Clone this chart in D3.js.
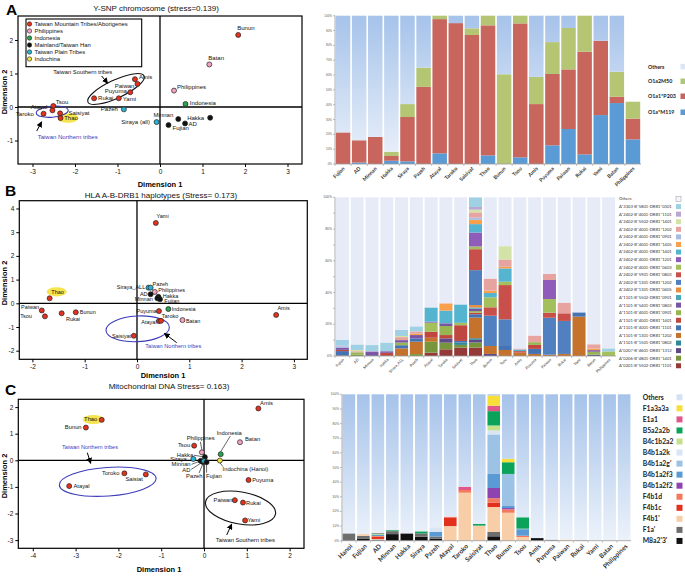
<!DOCTYPE html>
<html><head><meta charset="utf-8">
<script src="https://cdn.jsdelivr.net/npm/d3@7/dist/d3.min.js"></script>
<style>
html,body{margin:0;padding:0;background:#fff;}
svg{display:block;font-family:"Liberation Sans",Arial,Helvetica,sans-serif;}
</style></head><body>
<svg id="chart" width="685" height="576"></svg>
<script>
// ================= DATA =================
// ---- Panel A : Y-SNP MDS ----
const ysnpNames = ["Bunun","Batan","Amis","Paiwan","Puyuma","Yami","Rukai","Philippines","Indonesia","Pazeh","Siraya (all)","Minnan","Hakka","AD","Fujian","Tsou","Atayal","Saisiyat","Taroko","Thao"];
const ysnpDim1  = [1.84,1.16,-0.59,-0.53,-0.70,-0.97,-1.55,0.33,0.60,-0.85,-0.08,0.43,1.18,0.59,0.20,-2.51,-2.53,-2.35,-2.74,-2.34];
const ysnpDim2  = [2.15,1.27,0.83,0.69,0.44,0.26,0.26,0.49,0.09,-0.07,-0.45,-0.36,-0.32,-0.49,-0.54,0.03,-0.10,-0.19,-0.20,-0.33];
const ysnpGroup = ["M","P","M","M","M","M","M","P","I","T","T","H","H","H","H","M","M","M","M","M"];
const legendGroups = ["M","P","I","H","T","C"];
const legendLabels = ["Taiwan Mountain Tribes/Aborigenes","Philippines","Indonesia","Mainland/Taiwan Han","Taiwan Plain Tribes","Indochina"];

// ---- Panel A : Y-SNP haplogroup bars (%) ----
const ysnpCats   = ["Fujian","AD","Minnan","Hakka","Siraya","Pazeh","Atayal","Taroko","Saisiyat","Thao","Bunun","Tsou","Amis","Puyuma","Paiwan","Rukai","Yami","Batan","Philippines"];
const ysnpM119   = [0,1,0,2.2,1.8,0,7.2,0,0,5.8,0,4.5,0,12.6,23.6,6.5,33,41.1,16.6];
const ysnpP203   = [21.3,15,18.2,3.2,29.9,52,90.5,95,87,87.7,0,90.3,40.4,48.1,40.2,69.2,50.1,4.3,14];
const ysnpM50    = [0,0,0,2.9,8.7,13,2.3,0,4.5,6.5,60.5,5.2,18.3,21.5,27.9,24.3,0,16.8,11.4];
const ysnpOthers = [78.7,84,81.8,91.7,59.6,35,0,5,8.5,0,39.5,0,41.3,17.8,8.3,0,16.9,37.8,0];
const ysnpSeriesNames = ["O1a*M119","O1a1*P203","O1a2M50","Others"];

// ---- Panel B : HLA MDS ----
const hlaNames = ["Yami","Thao","Paiwan","Tsou","Rukai","Bunun","Saisiyat","Atayal","Taroko","Puyuma","Indonesia","Batan","Amis","Siraya_ALL","Pazeh","Philippines","AD","Hakka","Minnan","Fujian"];
const hlaDim1  = [0.36,-1.67,-1.82,-1.76,-1.44,-1.17,-0.06,0.42,0.46,0.42,0.60,0.87,2.66,0.22,0.26,0.34,0.26,0.41,0.39,0.44];
const hlaDim2  = [3.39,0.21,-0.30,-0.55,-0.42,-0.38,-1.37,-0.75,-0.74,-0.33,-0.24,-0.71,-0.49,0.66,0.66,0.48,0.38,0.28,0.21,0.17];
const hlaGroup = ["M","M","M","M","M","M","M","M","M","M","I","P","M","T","T","P","H","H","H","H"];

// ---- Panel B : HLA haplotype bars (%) ----
const hlaCats = ["Fujian","AD","Minnan","Hakka","Siraya_ALL","Pazeh","Atayal","Taroko","Saisiyat","Thao","Bunun","Tsou","Amis","Puyuma","Paiwan","Rukai","Yami","Batan","Philippines"];
const hlaLegend = ["Others","A*3303-B*5801-DRB1*0301","A*2402-B*4001-DRB1*1101","A*2402-B*5502-DRB1*1401","A*2402-B*4001-DRB1*1202","A*2402-B*4001-DRB1*0901","A*2402-B*4001-DRB1*1405","A*2402-B*4001-DRB1*1401","A*2402-B*4001-DRB1*1201","A*2402-B*4001-DRB1*0403","A*2402-B*5901-DRB1*0803","A*2402-B*1301-DRB1*1202","A*2402-B*1301-DRB1*0405","A*1101-B*5502-DRB1*0901","A*1101-B*5401-DRB1*0803","A*1101-B*4001-DRB1*0901","A*1101-B*4001-DRB1*1401","A*1101-B*4001-DRB1*1101","A*1101-B*1301-DRB1*1202","A*1101-B*1501-DRB1*0802","A*0207-B*4601-DRB1*1312","A*0206-B*4801-DRB1*1401","A*0201-B*5502-DRB1*1101"];
const hlaOthers = [89.8,92.7,93.1,91.5,83.6,81.3,69.4,66.8,67.5,0,51.2,30.8,95.3,87.1,48.3,66.4,72.5,92.6,95.2];
const hla01 = [3.6,3.5,3.8,5.5,3.8,3.2,0,0,0,6,0,0,0,0,0,0,0,0,1.9];
const hla02 = [0.5,0,0.6,0,0,0,0,0,0,1.7,0,0,0,0,0,0,0,0,0];
const hla03 = [0,0.8,0,0,0.7,0,0,0,0,1.7,0,8.4,0,0,0,0,0,0,0];
const hla04 = [0,0.7,0,0,1.9,1.5,0,0,0,3.2,7.6,4.6,0.6,4.2,3.8,6.7,0,2.7,0];
const hla05 = [1.0,0,0,0,0,0,0,0,0,1.5,0,0,0,0,0,0,0,0,0];
const hla06 = [0,0,0,0,0,0.8,0,4.6,0,2.7,1.5,1.0,0,0,0,0,0,1.0,0];
const hla07 = [0,0,0,0,0,0,9.0,8.0,11.6,5.3,2.7,8.4,1.0,0,0,0,0,0,0];
const hla08 = [0,0,0,0,0,0,0.6,0,0,8.8,0,0,0,0,12,0,0,0,0];
const hla09 = [0,0,0,0,0,0,5.7,0,1.5,1.7,6.3,2.1,0,0,8.6,0,0,0,2.9];
const hla10 = [0,0,0,0,0,0,0,0,0,13.2,5.3,21.6,1.0,0,3.2,4.8,0,0,0];
const hla11 = [0,0,0,0,0,0,0,0,0,22,19.1,16.8,0,0,23.3,20.8,0,0,0];
const hla12 = [0,0,0,0,0,0,0,0,0,1.5,0,0,0,0,0,0,0,0,0];
const hla13 = [0,0,0,0,0,0,0,0,0,0.8,0,0,0,0,0,0,0,0,0];
const hla14 = [1.2,0,2.0,1.0,1.5,2.1,0,1.7,0,1.5,0,0,0,0,0,0,0,1.0,0];
const hla15 = [0,1.5,0,0,1.7,0,0,5.7,0,1.0,0,0,0,1.7,0,0,0,1.9,0];
const hla16 = [0.8,0,0,1.5,0,0,3.8,2.1,9.9,1.0,0,0,0,2.5,0,0,0,0,0];
const hla17 = [2.8,0,0,0,2.0,2.1,0,0,1.0,2.1,0,2.5,0,3.2,0,0,2.7,0,0];
const hla18 = [0,0,0,0,4.8,7.8,2.5,0,0,13,5,3.8,2.1,1.3,0.8,1.3,24.8,0,0];
const hla19 = [0,0,0,0,0,0,0,0,1.5,1.0,0,0,0,0,0,0,0,0,0];
const hla20 = [0,0,0.5,0,0,0,0,2.7,0,1.7,1.3,0,0,0,0,0,0,0.8,0];
const hla21 = [0,0.8,0,0,0,1.2,6.9,4.2,1.7,3.2,0,0,0,0,0,0,0,0,0];
const hla22 = [0.3,0,0,0.5,0,0,2.1,4.2,5.3,5.3,0,0,0,0,0,0,0,0,0];

// ---- Panel C : mtDNA MDS ----
const mtNames = ["Amis","Thao","Bunun","Batan","Tsou","Philippines","Indonesia","Hakka","Siraya","Minnan","AD","Pazeh","Fujian","Indochina (Hanoi)","Toroko","Saisiat","Atayal","Puyuma","Paiwan","Rukai","Yami"];
const mtDim1  = [1.27,-2.39,-2.76,0.84,-0.23,-0.05,0.39,0.02,-0.25,-0.08,-0.03,0.0,0.06,0.37,-1.86,-1.36,-3.15,1.04,0.72,0.91,0.96];
const mtDim2  = [1.95,1.52,1.23,0.68,0.55,0.30,0.23,0.12,0.05,-0.02,-0.06,-0.03,-0.07,-0.01,-0.49,-0.53,-0.97,-0.74,-1.50,-1.59,-2.26];
const mtGroup = ["M","M","M","P","M","P","I","H","T","H","H","T","H","C","M","M","M","M","M","M","M"];

// ---- Panel C : mtDNA haplogroup bars (%) ----
const mtCats = ["Hanoi","Fujian","AD","Minnan","Hakka","Siraya","Pazeh","Atayal","Taroko","Saisiyat","Thao","Bunun","Tsou","Amis","Puyuma","Paiwan","Rukai","Yami","Batan","Philippines"];
const mtLegend = ["Others","F1a3a3a","E1a1","B5a2a2b","B4c1b2a2","B4b1a2k","B4b1a2g'","B4b1a2f3","B4b1a2f2","F4b1d","F4b1c","F4b1'","F1a'","M8a2'3'"];
const mtM8a23   = [0,1.5,0.3,4.5,5.0,2.7,1.4,0,0,0,3.0,0,0,1.8,0,0,0,0,0,0];
const mtF1a     = [5.0,1.8,0.5,2.0,0,2.3,1.4,0,0,0,3.0,0,0,0,0.7,0,0.3,0,0,0];
const mtF4b1    = [0,1.2,0.4,0,0,0,0,10.0,32.8,10.3,17.0,19.1,2.5,0,0,0.8,0,0,0,0];
const mtF4b1c   = [0,0,1.5,0,0,0,0,5.9,0,0,3.0,0,0,0,0,0,0,0,0,0];
const mtF4b1d   = [0,0,0.5,0,0,0,0,0.5,1.8,0,3.0,2.3,0.9,0,0,0,0,0,0,0];
const mtB4b1a2f2 = [0,0,0,0,0,0,0,0,0,0,7.0,0.9,0,0,0,0,0,0,0,0];
const mtB4b1a2f3 = [0,0,0.8,0,0,0,3.2,0,0,0,9.6,1.4,4.5,0,0,0,0,0,0,0];
const mtB4b1a2g  = [0,0,0,0,0,0,0,0,0,0,27.0,21.9,0,0,0,0,0,0,0,0];
const mtB4b1a2k  = [0,0,0,0,0,0,3.2,0,0,0,2.7,0,0.3,0,0,0,0,0,0,0];
const mtB4c1b2a2 = [0,0,0.5,0,0,0,0,0,0,0,3.4,0,0,0,0,0,0,0,0,0];
const mtB5a2a2b  = [0,0,0.5,0.7,0,1.4,0,0,0,1.1,9.8,8.0,7.8,0,0,0,0,0,0,0];
const mtE1a1     = [0,0,0.3,0,0,0,0,0,2.3,0,3.7,0,0,0,0,0,0,0,0,0];
const mtF1a3a3a  = [0,0,0,0,0,0,0,0,0,0,7.0,2.3,0,0,0,0,0,0,0,0];
const mtOthers   = [95,95.5,94.7,92.8,95,93.6,90.8,83.6,63.1,88.6,0.8,44.1,84,98.2,99.3,99.2,99.7,100,100,100];

// ================= STYLE / LAYOUT =================
const GC = {M:"#e3321f",P:"#f2a2c2",I:"#2ca24f",H:"#111111",T:"#2bb3d3",C:"#efe046"};
const FONT = '"Liberation Sans",Arial,sans-serif';
const CAL = 'Lato,"Open Sans",sans-serif';
const svg = d3.select("#chart");
const defs = svg.append("defs");
defs.append("marker").attr("id","arr").attr("viewBox","0 0 10 10").attr("refX",9).attr("refY",5)
  .attr("markerWidth",6).attr("markerHeight",6).attr("orient","auto")
  .append("path").attr("d","M0,0L10,5L0,10z").attr("fill","#000");
function grad(id,y1,y2){
  const g=defs.append("linearGradient").attr("id",id).attr("gradientUnits","userSpaceOnUse")
    .attr("x1",0).attr("x2",0).attr("y1",y1).attr("y2",y2);
  g.append("stop").attr("offset",0).attr("stop-color","#a6c3ea");
  g.append("stop").attr("offset",1).attr("stop-color","#ecf2fa");
}
grad("gA",15.7,164); grad("gC",394.3,540.7);

function scatter(o){
  const g = svg.append("g");
  const x = d3.scaleLinear().domain(o.xd).range([o.L,o.R]);
  const y = d3.scaleLinear().domain(o.yd).range([o.B,o.T]);
  (o.highlights||[]).forEach(h=>{
    g.append("ellipse").attr("cx",x(h.x)).attr("cy",y(h.y)).attr("rx",h.rx).attr("ry",h.ry).attr("fill","#f5e44f");
  });
  g.append("line").attr("x1",o.L).attr("x2",o.R).attr("y1",y(0)).attr("y2",y(0)).attr("stroke","#000").attr("stroke-width",1.3);
  g.append("line").attr("x1",x(0)).attr("x2",x(0)).attr("y1",o.T).attr("y2",o.B).attr("stroke","#000").attr("stroke-width",1.3);
  g.append("rect").attr("x",o.L).attr("y",o.T).attr("width",o.R-o.L).attr("height",o.B-o.T)
    .attr("fill","none").attr("stroke","#000").attr("stroke-width",1.2);
  const ax = g.append("g").attr("transform",`translate(0,${o.B})`)
    .call(d3.axisBottom(x).tickValues(o.xt).tickSize(3).tickPadding(2).tickFormat(d=>String(d)));
  const ay = g.append("g").attr("transform",`translate(${o.L},0)`)
    .call(d3.axisLeft(y).tickValues(o.yt).tickSize(3).tickPadding(2).tickFormat(d=>String(d)));
  [ax,ay].forEach(a=>{a.select(".domain").remove();
    a.selectAll("text").attr("font-size",6.5).attr("font-family",FONT).attr("fill","#111");
    a.selectAll("line").attr("stroke","#000");});
  g.append("text").attr("x",o.xTitle[0]).attr("y",o.xTitle[1]).attr("text-anchor","middle")
    .attr("font-size",7.5).attr("font-weight","bold").text("Dimension 1");
  g.append("text").attr("transform",`translate(${o.yTitle[0]},${o.yTitle[1]}) rotate(-90)`).attr("text-anchor","middle")
    .attr("font-size",7.5).attr("font-weight","bold").text("Dimension 2");
  (o.ellipses||[]).forEach(e=>{
    g.append("ellipse").attr("transform",`translate(${x(e.x)},${y(e.y)}) rotate(${e.rot||0})`)
      .attr("rx",e.rx).attr("ry",e.ry).attr("fill","none").attr("stroke",e.color).attr("stroke-width",1.1);
  });
  (o.arrows||[]).forEach(a=>{
    g.append("line").attr("x1",x(a[0])).attr("y1",y(a[1])).attr("x2",x(a[2])).attr("y2",y(a[3]))
      .attr("stroke","#000").attr("stroke-width",1).attr("marker-end","url(#arr)");
  });
  (o.notes||[]).forEach(n=>{
    g.append("text").attr("x",x(n.x)).attr("y",y(n.y)).attr("text-anchor","middle")
      .attr("font-size",n.fs).attr("fill",n.color).text(n.text);
  });
  const pts = o.names.map((n,i)=>({n,x:x(o.d1[i]),y:y(o.d2[i]),g:o.grp[i]}));
  pts.forEach(p=>{
    const l = o.leaders && o.leaders[p.n];
    if(l) g.append("line").attr("x1",p.x+l[0]).attr("y1",p.y+l[1]).attr("x2",p.x+l[2]).attr("y2",p.y+l[3])
      .attr("stroke","#000").attr("stroke-width",0.6);
  });
  g.selectAll("circle.pt").data(pts).join("circle").attr("class","pt")
    .attr("cx",d=>d.x).attr("cy",d=>d.y).attr("r",2.5)
    .attr("fill",d=>GC[d.g]).attr("stroke","#222").attr("stroke-width",0.7);
  g.selectAll("text.pl").data(pts).join("text").attr("class","pl")
    .attr("x",d=>d.x+o.pos[d.n][0]).attr("y",d=>d.y+o.pos[d.n][1])
    .attr("text-anchor",d=>o.pos[d.n][2]).attr("font-size",o.fs).attr("fill","#111").text(d=>d.n);
  g.append("text").attr("x",o.title[0]).attr("y",o.title[1]).attr("text-anchor","middle")
    .attr("font-size",8).attr("fill","#111").text(o.title[2]);
  g.append("text").attr("x",o.letter[0]).attr("y",o.letter[1]).attr("font-size",15.5)
    .attr("font-weight","bold").text(o.letter[2]);
  return {x,y,g};
}

function bars(o){
  const g = svg.append("g");
  const x = d3.scaleBand().domain(o.cats).range([o.L,o.R]).paddingInner(o.pad).paddingOuter(o.padOut);
  const y = d3.scaleLinear().domain([0,100]).range([o.B,o.T]);
  const rows = o.cats.map((c,i)=>{const r={cat:c}; o.series.forEach(s=>r[s.name]=s.values[i]); return r;});
  const st = d3.stack().keys(o.series.map(s=>s.name))(rows);
  g.selectAll("g.s").data(st).join("g").attr("class","s").attr("fill",(d,i)=>o.series[i].color)
    .selectAll("rect").data(d=>d).join("rect")
    .attr("x",d=>x(d.data.cat)).attr("width",x.bandwidth())
    .attr("y",d=>y(d[1])).attr("height",d=>Math.max(0,y(d[0])-y(d[1])));
  g.append("line").attr("x1",o.L).attr("x2",o.L).attr("y1",o.T).attr("y2",o.B).attr("stroke","#999").attr("stroke-width",0.8);
  g.append("line").attr("x1",o.L).attr("x2",o.R).attr("y1",o.B).attr("y2",o.B).attr("stroke","#999").attr("stroke-width",0.8);
  o.yTicks.forEach(t=>{
    g.append("line").attr("x1",o.L-2).attr("x2",o.L).attr("y1",y(t)).attr("y2",y(t)).attr("stroke","#999").attr("stroke-width",0.6);
  });
  o.yLabels.forEach(t=>{
    g.append("text").attr("x",o.L-3).attr("y",y(t)+1).attr("text-anchor","end").attr("font-size",o.yfs)
      .attr("fill","#555").text(t+"%");
  });
  const step = x.step();
  o.cats.forEach((c,i)=>{
    const bx = x(c)-(step-x.bandwidth())/2;
    g.append("line").attr("x1",bx).attr("x2",bx).attr("y1",o.B).attr("y2",o.B+2).attr("stroke","#999").attr("stroke-width",0.6);
  });
  g.selectAll("text.cl").data(o.cats).join("text").attr("class","cl")
    .attr("transform",d=>`translate(${x(d)+x.bandwidth()/2+o.catOff[0]},${o.B+o.catOff[1]}) rotate(-45)`)
    .attr("text-anchor","end").attr("font-size",o.cfs).attr("font-weight",o.cbold?"bold":"normal")
    .attr("font-family",CAL).attr("fill","#333").text(d=>d);
  return {x,y,g};
}

// ================= PANEL A =================
scatter({
  L:18,R:302,T:16,B:164, xd:[-3.341,3.341], yd:[-1.701,2.716], xt:[-3,-2,-1,0,1,2,3], yt:[-1,0,1,2],
  names:ysnpNames,d1:ysnpDim1,d2:ysnpDim2,grp:ysnpGroup, fs:6,
  xTitle:[160,187], yTitle:[7,92], title:[156,11,"Y-SNP chromosome (stress=0.139)"], letter:[6,15,"A"],
  highlights:[{x:-2.165,y:-0.328,rx:10.5,ry:4.8}],
  ellipses:[{x:-1.035,y:0.537,rx:31,ry:9,rot:-25,color:"#111"},{x:-2.536,y:-0.14,rx:16,ry:5.5,rot:-5,color:"#3d3dbb"}],
  arrows:[[-1.372,0.925,-1.231,0.707],[-2.901,-0.716,-2.784,-0.439]],
  notes:[{x:-1.819,y:0.985,text:"Taiwan Southern tribes",fs:5.8,color:"#111"},{x:-2.172,y:-0.955,text:"Taiwan Northern tribes",fs:6,color:"#3d3dbb"}],
  pos:{"Bunun":[-1,-5,"start"],"Batan":[-1,-4.5,"start"],"Amis":[4,-0.5,"start"],"Paiwan":[-3,4,"end"],
    "Puyuma":[-3.5,0.5,"end"],"Yami":[4,2.4,"start"],"Rukai":[4,1.4,"start"],"Philippines":[3,-1.7,"start"],
    "Indonesia":[4.3,0.7,"start"],"Pazeh":[-6,2,"end"],"Siraya (all)":[-6.7,1.7,"end"],"Minnan":[-5,-2,"end"],
    "Hakka":[-6,2,"end"],"AD":[3.3,2.7,"start"],"Fujian":[4,4.7,"start"],"Tsou":[2.4,-1.7,"start"],
    "Atayal":[-5,-1.6,"end"],"Saisiyat":[8.3,1.4,"start"],"Taroko":[-9.7,2.3,"end"],"Thao":[3.6,2,"start"]}
});
(function(){
  const g=svg.append("g");
  g.append("rect").attr("x",26).attr("y",19).attr("width",115.7).attr("height",47.7).attr("fill","#fff").attr("stroke","#000").attr("stroke-width",1.1);
  legendGroups.forEach((k,i)=>{
    const yy=24+i*7;
    g.append("circle").attr("cx",29.5).attr("cy",yy).attr("r",2.2).attr("fill",GC[k]).attr("stroke","#222").attr("stroke-width",0.6);
    g.append("text").attr("x",34.5).attr("y",yy+2).attr("font-size",5.9).attr("fill","#111").text(legendLabels[i]);
  });
})();
const ysnpColors = ["#5b9bd5","#c8655d","#b4c673","url(#gA)"];
bars({cats:ysnpCats,L:335,R:641,T:15.7,B:164,pad:0.1,padOut:0.05,
  series:[ysnpM119,ysnpP203,ysnpM50,ysnpOthers].map((v,i)=>({name:ysnpSeriesNames[i],values:v,color:ysnpColors[i]})),
  yTicks:d3.range(0,101,10), yLabels:d3.range(0,101,10), yfs:3, catOff:[2,5], cfs:5.2, cbold:true});
(function(){
  const g=svg.append("g");
  const items=[["Others","#dce7f6"],["O1a2M50","#b4c673"],["O1a1*P203","#c8655d"],["O1a*M119","#5b9bd5"]];
  items.forEach((it,i)=>{
    const yy=[66.7,81.3,96.3,112.3][i];
    g.append("text").attr("x",648).attr("y",yy+2).attr("font-size",5.3).attr("font-weight","bold").attr("font-family",CAL).attr("fill","#222").text(it[0]);
    g.append("rect").attr("x",680.5).attr("y",yy-2.8).attr("width",5.5).attr("height",5.5).attr("fill",it[1]);
  });
})();

// ================= PANEL B =================
scatter({
  L:19.3,R:307.3,T:200.7,B:359.3, xd:[-2.25,3.256], yd:[-2.363,4.329], xt:[-2,-1,0,1,2,3], yt:[-2,-1,0,1,2,3,4],
  names:hlaNames,d1:hlaDim1,d2:hlaDim2,grp:hlaGroup, fs:5.5,
  xTitle:[163,378], yTitle:[7,283], title:[161,198,"HLA A-B-DRB1 haplotypes (Stress= 0.173)"], letter:[5,196,"B"],
  highlights:[{x:-1.535,y:0.485,rx:10,ry:4.6}],
  ellipses:[{x:0.013,y:-1.076,rx:31.7,ry:12.8,rot:-3,color:"#3d3dbb"}],
  arrows:[[0.759,-1.662,0.522,-1.266]],
  notes:[{x:0.694,y:-1.886,text:"Taiwan Northern tribes",fs:5.6,color:"#3d3dbb"}],
  pos:{"Yami":[0.7,-5,"start"],"Thao":[1.7,-4.6,"start"],"Paiwan":[-2.7,-1,"end"],"Tsou":[-13,1.7,"end"],
    "Rukai":[4.3,7.7,"start"],"Bunun":[4,1.4,"start"],"Saisiyat":[-2.7,2,"end"],"Atayal":[-2.3,2.7,"end"],
    "Taroko":[0.7,-3,"start"],"Puyuma":[-2.3,1.7,"end"],"Indonesia":[3.4,1.7,"start"],"Batan":[3.4,3,"start"],
    "Amis":[1.3,-4.7,"start"],"Siraya_ALL":[-3.3,1.6,"end"],"Pazeh":[2,-1.4,"start"],"Philippines":[3.6,0.3,"start"],
    "AD":[-3,2,"end"],"Hakka":[4.4,1.3,"start"],"Minnan":[-4.6,2.7,"end"],"Fujian":[4.3,4,"start"]}
});
const hlaColors = ["#e6ebf7","#9fd0e3","#b9a8d4","#d3e3a8","#e6a3a0","#aabbe0","#f8a04c","#55b4cf","#8f5cb9","#a3c05c","#c9504a","#5080c0","#e88c3e","#4ba6ba","#7a55a3","#97b552","#c0473f","#4472b2","#c4722c","#2f8898","#5e4a88","#77953a","#943a38"];
const hlaArrays = [hlaOthers,hla01,hla02,hla03,hla04,hla05,hla06,hla07,hla08,hla09,hla10,hla11,hla12,hla13,hla14,hla15,hla16,hla17,hla18,hla19,hla20,hla21,hla22];
const hlaSeries = hlaArrays.map((v,i)=>({name:hlaLegend[i],values:v,color:hlaColors[i]})).reverse();
bars({cats:hlaCats,L:335,R:616,T:197.3,B:356,pad:0.12,padOut:0.06,series:hlaSeries,
  yTicks:d3.range(0,101,10), yLabels:[0,20,40,60,80,100], yfs:3.4, catOff:[2,4], cfs:3.9, cbold:false});
(function(){
  const g=svg.append("g");
  hlaLegend.forEach((t,i)=>{
    const yy = 199 + i*7.58;
    g.append("text").attr("x",619).attr("y",yy+1.4).attr("font-size",4.1).attr("font-family",CAL).attr("fill","#333").text(t);
    g.append("rect").attr("x",676).attr("y",yy-2.5).attr("width",5).attr("height",5)
      .attr("fill",i===0?"#f3f5fb":hlaColors[i]).attr("stroke",i===0?"#999":"none").attr("stroke-width",0.5);
  });
})();

// ================= PANEL C =================
scatter({
  L:18.3,R:304,T:399.3,B:548.3, xd:[-4.339,2.336], yd:[-3.308,2.293], xt:[-4,-3,-2,-1,0,1,2], yt:[-3,-2,-1,0,1,2],
  names:mtNames,d1:mtDim1,d2:mtDim2,grp:mtGroup, fs:5.8,
  xTitle:[159,572], yTitle:[7,476], title:[169,389,"Mitochondrial DNA  Stress= 0.163)"], letter:[5,395,"C"],
  highlights:[{x:-2.586,y:1.534,rx:10.5,ry:4.6}],
  ellipses:[{x:-2.25,y:-0.805,rx:48.5,ry:14.3,rot:-4,color:"#3d3dbb"},{x:0.853,y:-1.793,rx:35.5,ry:16,rot:10,color:"#111"}],
  arrows:[[-2.727,0.286,-2.647,-0.113],[0.53,-2.808,0.647,-2.395]],
  notes:[{x:-2.664,y:0.406,text:"Taiwan Northern tribes",fs:5.6,color:"#3d3dbb"},{x:0.965,y:-3.071,text:"Taiwan Southern tribes",fs:5.8,color:"#111"}],
  leaders:{"Philippines":[-1.5,-10.5,0,-2.5],"Indonesia":[9.5,-18,0,-2.5],"Hakka":[-11,-1.9,0,0],"Minnan":[-9,3.5,0,0],
    "AD":[-11.5,7.5,0,0],"Pazeh":[-5,12,0,0],"Fujian":[0,10.5,0,0],"Indochina (Hanoi)":[3,6,0,2]},
  pos:{"Amis":[1.7,-3,"start"],"Thao":[-4.4,1.3,"end"],"Bunun":[-4.3,1.6,"end"],"Batan":[5,-1,"start"],
    "Tsou":[-4,1.3,"end"],"Philippines":[-1.2,-12,"middle"],"Indonesia":[-4,-19.6,"start"],"Hakka":[-11.7,-0.4,"end"],
    "Siraya":[-6.6,2.3,"end"],"Minnan":[-10,5.5,"end"],"AD":[-12.4,9.7,"end"],"Pazeh":[-1.5,16.9,"end"],
    "Fujian":[-0.6,15.6,"start"],"Indochina (Hanoi)":[2.7,10.3,"start"],"Toroko":[-5,2,"end"],"Saisiat":[-3,6.7,"end"],
    "Atayal":[4.3,1.7,"start"],"Puyuma":[3.6,2,"start"],"Paiwan":[-2.3,1.7,"end"],"Rukai":[3,2,"start"],"Yami":[2.3,1.7,"start"]}
});
const mtColors = ["url(#gC)","#f8de38","#e0588a","#0ba35a","#c4e08a","#d7e5f4","#9cc2e6","#5b9bd5","#8d44af","#f4785a","#e2301f","#f8cea8","#6e6e6e","#111111"];
const mtLegendSw = ["#d3e2f5"].concat(mtColors.slice(1));
const mtArrays = [mtOthers,mtF1a3a3a,mtE1a1,mtB5a2a2b,mtB4c1b2a2,mtB4b1a2k,mtB4b1a2g,mtB4b1a2f3,mtB4b1a2f2,mtF4b1d,mtF4b1c,mtF4b1,mtF1a,mtM8a23];
const mtSeries = mtArrays.map((v,i)=>({name:mtLegend[i],values:v,color:mtColors[i]})).reverse();
bars({cats:mtCats,L:342,R:631,T:394.3,B:540.7,pad:0.13,padOut:0.04,series:mtSeries,
  yTicks:d3.range(0,101,10), yLabels:d3.range(0,101,10), yfs:3.2, catOff:[4,6], cfs:6.5, cbold:true});
(function(){
  const g=svg.append("g");
  mtLegend.forEach((t,i)=>{
    const yy = 397.3 + i*11.05;
    g.append("text").attr("x",642.7).attr("y",yy+2.4).attr("font-size",6.8).attr("font-weight","bold").attr("font-family",CAL).attr("fill","#222").text(t);
    g.append("rect").attr("x",676.5).attr("y",yy-3).attr("width",6).attr("height",6).attr("fill",mtLegendSw[i]);
  });
})();
</script></body></html>
